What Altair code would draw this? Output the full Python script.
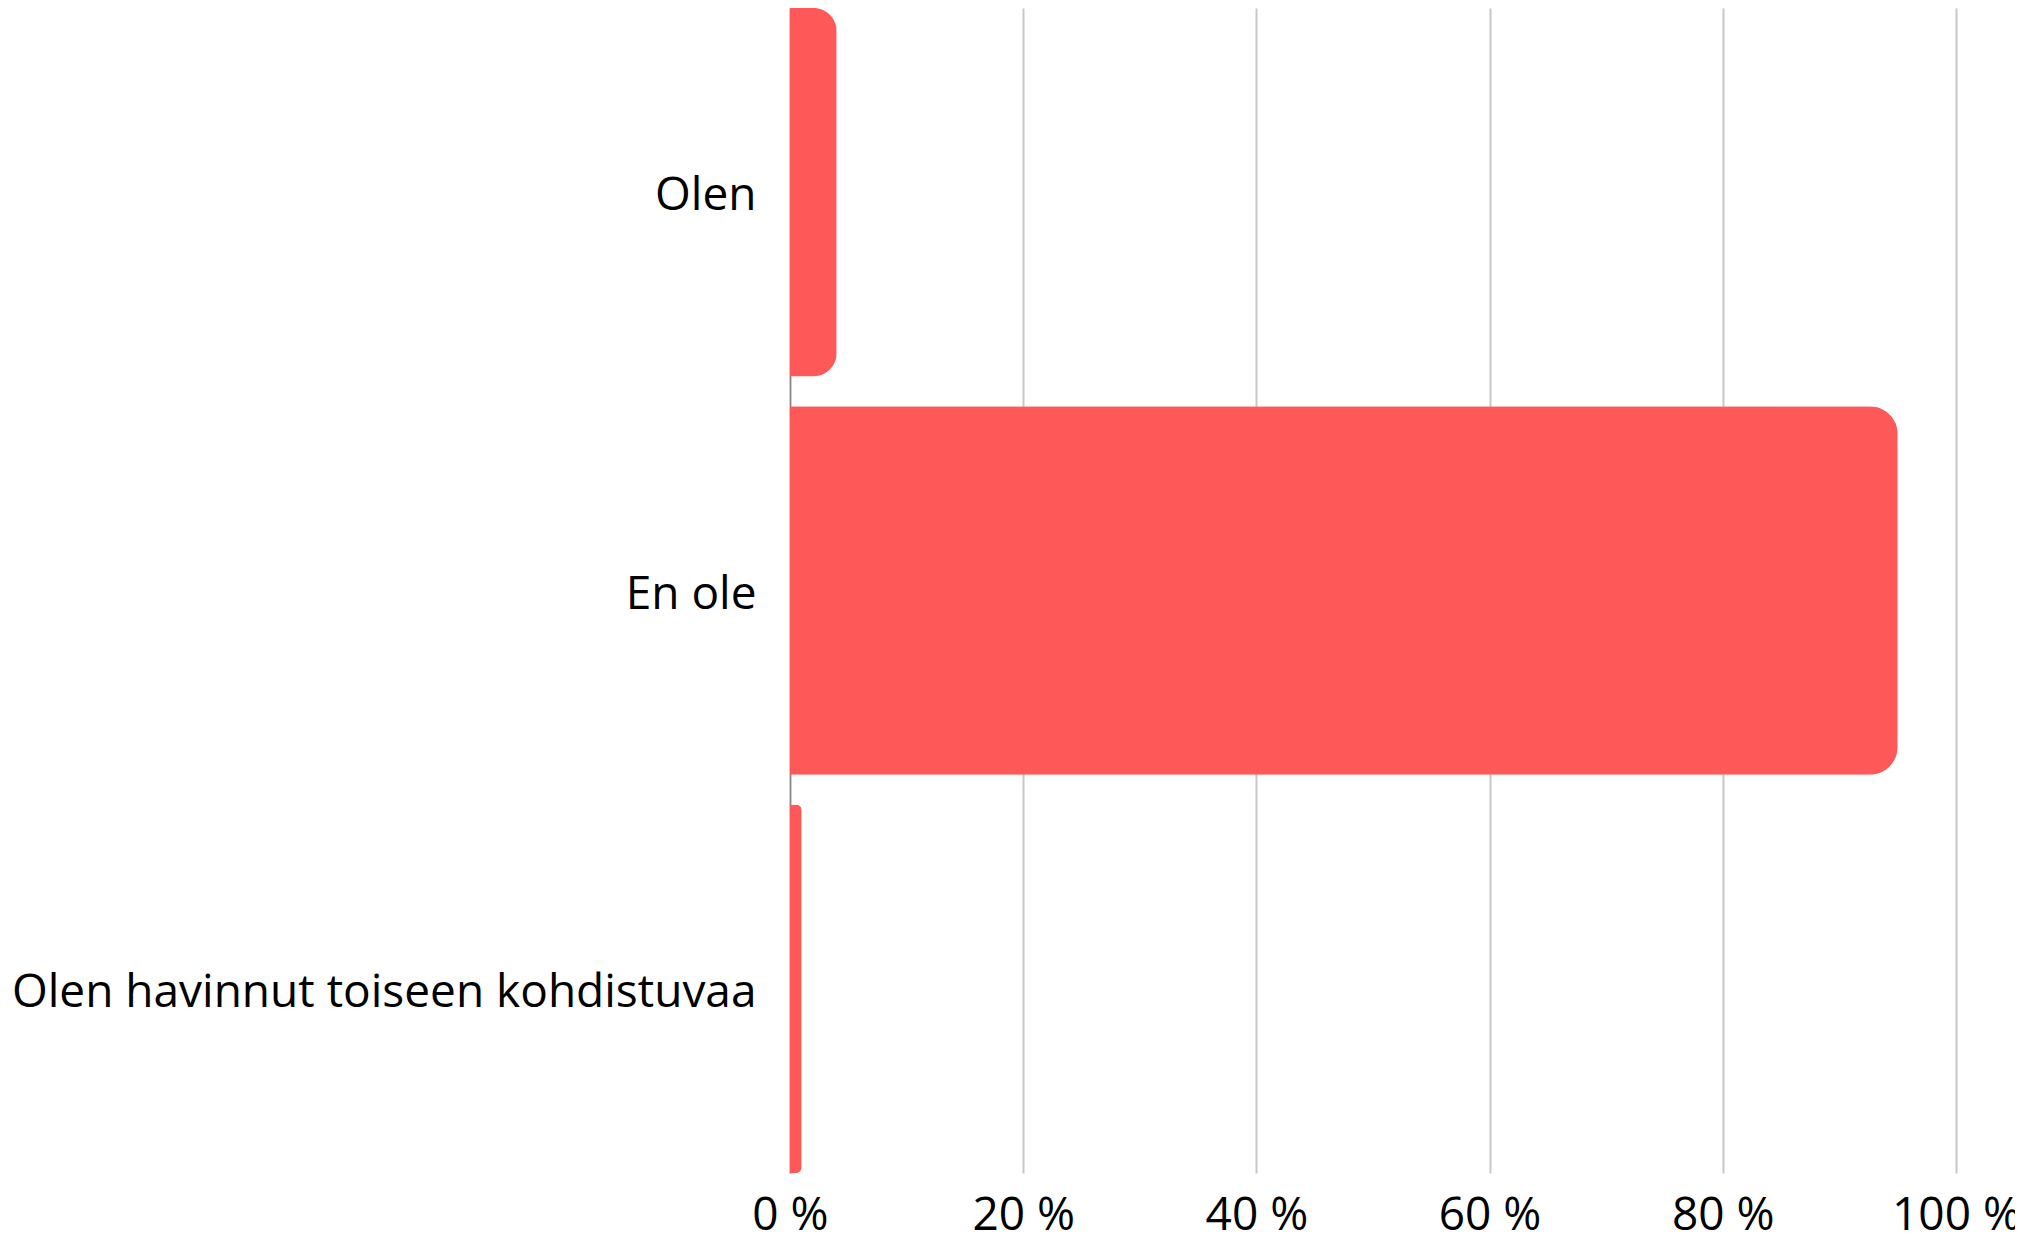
import altair as alt
import pandas as pd

categories = ["Olen", "En ole", "Olen havinnut toiseen kohdistuvaa"]
values = [4, 95, 1]
tick_values = [0, 20, 40, 60, 80, 100]

df = pd.DataFrame({"category": categories, "value": values})

chart = (
    alt.Chart(df)
    .mark_bar(color="#ff5858", cornerRadiusEnd=28)
    .encode(
        x=alt.X(
            "value:Q",
            scale=alt.Scale(domain=[0, 100], nice=False),
            axis=alt.Axis(
                values=tick_values,
                labelExpr="datum.value + ' %'",
                title=None,
                ticks=False,
                domain=False,
                grid=True,
                gridColor="#c8c8c8",
                gridWidth=2,
                labelFont="Open Sans",
                labelFontSize=46,
                labelColor="#000000",
                labelPadding=20,
                labelFlush=False,
            ),
        ),
        y=alt.Y(
            "category:N",
            sort=categories,
            scale=alt.Scale(paddingInner=0.075, paddingOuter=0),
            axis=alt.Axis(
                title=None,
                ticks=False,
                domain=True,
                domainColor="#888888",
                domainWidth=1.5,
                labelFont="Open Sans",
                labelFontSize=46,
                labelColor="#000000",
                labelPadding=34,
                labelOffset=4,
                labelLimit=1000,
            ),
        ),
    )
    .properties(
        width=1166,
        height=1165,
        autosize=alt.AutoSizeParams(type="none"),
        padding={"left": 782, "top": 0, "right": 59, "bottom": 58},
    )
    .configure_view(stroke=None)
)

chart.save("out.html", embed_options={"renderer": "svg", "actions": False})
